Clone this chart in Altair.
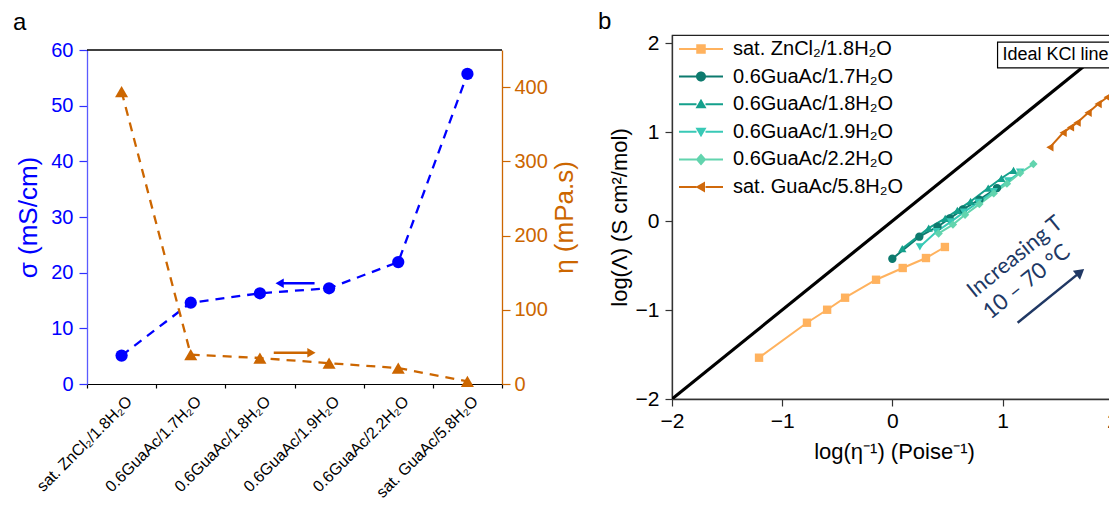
import json
import altair as alt
import pandas as pd

FONT = "Liberation Sans"
BLUE = "#0000FF"
ORANGE = "#CC6600"

# ---------------- panel a data ----------------
categories = ["sat. ZnCl₂/1.8H₂O", "0.6GuaAc/1.7H₂O", "0.6GuaAc/1.8H₂O",
              "0.6GuaAc/1.9H₂O", "0.6GuaAc/2.2H₂O", "sat. GuaAc/5.8H₂O"]
cat_index = [0, 1, 2, 3, 4, 5]
sigma = [5.1, 14.6, 16.3, 17.2, 21.9, 55.7]
eta = [394, 39.5, 35, 28, 21.5, 3.6]
sigma_arrow_from = [2.79]
sigma_arrow_to = [2.28]
sigma_arrow_head = [2.285]
sigma_arrow_level = [18.1]
eta_arrow_from = [2.2]
eta_arrow_to = [2.74]
eta_arrow_head = [2.745]
eta_arrow_level = [42.0]
frame_top = {"x": [-0.5], "x2": [5.5], "y": [60]}

# ---------------- panel b data ----------------
series_names = ["sat. ZnCl₂/1.8H₂O", "0.6GuaAc/1.7H₂O", "0.6GuaAc/1.8H₂O",
                "0.6GuaAc/1.9H₂O", "0.6GuaAc/2.2H₂O", "sat. GuaAc/5.8H₂O"]
series_colors = ["#FFB25E", "#0D7A6E", "#14A08C", "#38C9B6", "#62D4AE", "#D0690B"]
series_shapes = ["square", "circle", "triangle-up", "triangle-down", "diamond", "triangle-left"]
zncl2_x = [-1.21, -0.775, -0.592, -0.429, -0.148, 0.094, 0.305, 0.477]
zncl2_y = [-1.536, -1.143, -0.997, -0.862, -0.660, -0.528, -0.416, -0.292]
g17_x = [0.0, 0.245, 0.41, 0.52, 0.64, 0.79, 0.95]
g17_y = [-0.424, -0.176, -0.064, 0.03, 0.13, 0.24, 0.37]
g18_x = [0.09, 0.33, 0.48, 0.59, 0.71, 0.87, 0.99, 1.10]
g18_y = [-0.31, -0.08, 0.03, 0.12, 0.22, 0.37, 0.48, 0.57]
g19_x = [0.25, 0.40, 0.53, 0.65, 0.78, 0.92, 1.05, 1.16]
g19_y = [-0.29, -0.12, -0.01, 0.10, 0.21, 0.33, 0.45, 0.55]
g22_x = [0.42, 0.55, 0.66, 0.79, 0.92, 1.04, 1.16, 1.28]
g22_y = [-0.14, -0.04, 0.07, 0.19, 0.31, 0.42, 0.54, 0.64]
gua58_x = [1.43, 1.55, 1.617, 1.677, 1.777, 1.868, 1.95, 2.02]
gua58_y = [0.828, 0.992, 1.052, 1.105, 1.217, 1.315, 1.39, 1.464]
kcl_x = [-2.0, 2.03]
kcl_y = [-2.0, 2.03]
kcl_box = {"x": [0.955], "x2": [2.02], "y": [1.72], "y2": [2.01]}
kcl_label = {"x": [1.0], "y": [1.865], "text": ["Ideal KCl line"]}
annot_text = ["Increasing T", "10 – 70 °C"]
annot_x = [1.112, 1.219]
annot_y = [-0.401, -0.682]
annot_arrow = {"x": [1.137], "y": [-1.143], "x2": [1.70], "y2": [-0.58]}
annot_head = {"x": [1.706], "y": [-0.575]}

# legend symbol paths (line pieces + marker), unit = sqrt(symbolSize)/2 px
LINE = "M-4.4,-0.2H-0.9V0.2H-4.4ZM0.9,-0.2H4.4V0.2H0.9Z"
legend_paths = [
    LINE + "M-0.95,-0.95H0.95V0.95H-0.95Z",
    LINE + "M-1,0A1,1,0,1,1,1,0A1,1,0,1,1,-1,0Z",
    LINE + "M0,-1.1L1.1,0.8H-1.1Z",
    LINE + "M0,1.1L1.1,-0.8H-1.1Z",
    LINE + "M0,-1.2L1.05,0L0,1.2L-1.05,0Z",
    LINE + "M-1.1,0L0.8,-1.1V1.1Z",
]


def minor_dash(test, minor_len):
    return {"condition": {"test": test, "value": [minor_len, 40]}, "value": [40, 0]}


# ================= panel a =================
A_H = 349          # view height (top aligned with panel b)
A_TOP = 15         # plotted range starts 15 px below the view top
df_a = pd.DataFrame({"idx": cat_index, "category": categories, "sigma": sigma, "eta": eta})
xa_scale = alt.Scale(domain=[-0.5, 5.5], nice=False, zero=False)
xa_axis = alt.Axis(
    values=[v / 2 for v in range(-1, 12)], labels=False,
    tickSize=8, tickDash=minor_dash("datum.value % 1 != 0", 4),
    domainColor="#000000", tickColor="#000000",
    tickWidth=1.2, domainWidth=1.2, title=None,
)
xa = alt.X("idx:Q", scale=xa_scale, axis=xa_axis)
xa_s = alt.X("idx:Q", scale=xa_scale)

sig_scale = alt.Scale(domain=[0, 60], nice=False, zero=True, range=[A_H, A_TOP])
sig_axis = alt.Axis(
    orient="left", title="σ (mS/cm)", values=list(range(0, 61, 5)),
    labelExpr="datum.value % 10 == 0 ? datum.label : ''",
    tickSize=8, tickDash=minor_dash("datum.value % 10 != 0", 4),
    labelColor=BLUE, titleColor=BLUE, domainColor="#5A5AFF", tickColor="#3030FF",
    labelFontSize=20, titleFontSize=26, labelPadding=6, titlePadding=9,
    domainWidth=1.3, tickWidth=1.2,
)
eta_scale = alt.Scale(domain=[0, 450], nice=False, zero=True, range=[A_H, A_TOP])
eta_axis = alt.Axis(
    orient="right", title="η (mPa.s)", values=list(range(0, 451, 50)),
    labelExpr="datum.value % 100 == 0 ? datum.label : ''",
    tickSize=8, tickDash=minor_dash("datum.value % 100 != 0", 4),
    labelColor=ORANGE, titleColor=ORANGE, domainColor=ORANGE, tickColor=ORANGE,
    labelFontSize=20, titleFontSize=26, labelPadding=4, titlePadding=4,
    titleAngle=270, titleBaseline="top", domainWidth=1.3, tickWidth=1.2,
)

base_a = alt.Chart(df_a)
sig_line = base_a.mark_line(color=BLUE, strokeDash=[9, 7], strokeWidth=2.3).encode(
    x=xa, y=alt.Y("sigma:Q", scale=sig_scale, axis=sig_axis))
sig_pts = base_a.mark_circle(color=BLUE, size=150, opacity=1).encode(
    x=xa_s, y=alt.Y("sigma:Q", scale=sig_scale))
# category names as rotated tick labels under the axis
cat_labels = base_a.mark_text(
    angle=315, align="right", baseline="middle", font=FONT, fontSize=16,
    color="black", xOffset=8).encode(
    x=xa_s, y=alt.value(A_H + 15), text="category:N")
df_sa = pd.DataFrame({"x_from": sigma_arrow_from, "x_to": sigma_arrow_to,
                      "head": sigma_arrow_head, "level": sigma_arrow_level})
sig_arrow = alt.Chart(df_sa).mark_rule(color=BLUE, strokeWidth=2.5).encode(
    x=alt.X("x_from:Q", scale=xa_scale), x2="x_to:Q",
    y=alt.Y("level:Q", scale=sig_scale))
sig_head = alt.Chart(df_sa).mark_point(shape="triangle-left", filled=True, color=BLUE,
                                       size=90, opacity=1).encode(
    x=alt.X("head:Q", scale=xa_scale),
    y=alt.Y("level:Q", scale=sig_scale))
top_line = alt.Chart(pd.DataFrame(frame_top)).mark_rule(color="black", strokeWidth=1.3).encode(
    x=alt.X("x:Q", scale=xa_scale), x2="x2:Q",
    y=alt.Y("y:Q", scale=sig_scale))

eta_line = base_a.mark_line(color=ORANGE, strokeDash=[9, 7], strokeWidth=2.3).encode(
    x=xa_s, y=alt.Y("eta:Q", scale=eta_scale, axis=eta_axis))
eta_pts = base_a.mark_point(shape="triangle-up", filled=True, color=ORANGE, size=170,
                            opacity=1).encode(
    x=xa_s, y=alt.Y("eta:Q", scale=eta_scale))
df_ea = pd.DataFrame({"x_from": eta_arrow_from, "x_to": eta_arrow_to,
                      "head": eta_arrow_head, "level": eta_arrow_level})
eta_arrow = alt.Chart(df_ea).mark_rule(color=ORANGE, strokeWidth=2.5).encode(
    x=alt.X("x_from:Q", scale=xa_scale), x2="x_to:Q",
    y=alt.Y("level:Q", scale=eta_scale))
eta_head = alt.Chart(df_ea).mark_point(shape="triangle-right", filled=True, color=ORANGE,
                                       size=90, opacity=1).encode(
    x=alt.X("head:Q", scale=xa_scale),
    y=alt.Y("level:Q", scale=eta_scale))

panel_a = alt.layer(
    alt.layer(sig_line, top_line, sig_pts, sig_arrow, sig_head, cat_labels),
    alt.layer(eta_line, eta_pts, eta_arrow, eta_head),
).resolve_scale(y="independent").properties(
    width=415, height=A_H,
    view=alt.ViewBackground(stroke="transparent"),
    title=alt.TitleParams("a", anchor="start", frame="group", dx=-74, offset=0,
                          fontSize=24, fontWeight="normal", font=FONT, color="black"),
)

# ================= panel b =================
rows = []
for name, xs, ys in zip(series_names,
                        [zncl2_x, g17_x, g18_x, g19_x, g22_x, gua58_x],
                        [zncl2_y, g17_y, g18_y, g19_y, g22_y, gua58_y]):
    for xv, yv in zip(xs, ys):
        rows.append({"series": name, "x": xv, "y": yv})
df_b = pd.DataFrame(rows)

xb_scale = alt.Scale(domain=[-2, 2.03], nice=False, zero=False)
yb_scale = alt.Scale(domain=[-2, 2.09], nice=False, zero=False)
xb_axis = alt.Axis(
    values=[v / 2 for v in range(-4, 5)], format="d",
    labelExpr="datum.value % 1 == 0 ? datum.label : ''",
    tickSize=7, tickDash=minor_dash("datum.value % 1 != 0", 4),
    title="log(η⁻¹) (Poise⁻¹)", labelFontSize=21, titleFontSize=22,
    labelPadding=4, titlePadding=10, labelFlush=False,
    domainColor="#333333", tickColor="#333333", domainWidth=1.3, tickWidth=1.2,
)
yb_axis = alt.Axis(
    values=[v / 2 for v in range(-4, 5)], format="d",
    labelExpr="datum.value % 1 == 0 ? datum.label : ''",
    tickSize=7, tickDash=minor_dash("datum.value % 1 != 0", 4),
    title="log(Λ) (S cm²/mol)", labelFontSize=21, titleFontSize=22,
    labelPadding=6, titlePadding=4, labelFlush=False,
    domainColor="#333333", tickColor="#333333", domainWidth=1.3, tickWidth=1.2,
)

# nested conditional: series name -> legend symbol path
shape_expr = "''"
for name, p in reversed(list(zip(series_names, legend_paths))):
    shape_expr = f"datum.value == {json.dumps(name, ensure_ascii=False)} ? '{p}' : ({shape_expr})"
legend = alt.Legend(
    orient="none", legendX=19, legendY=4, title=None, direction="vertical",
    labelFont=FONT, labelFontSize=20, labelColor="black", symbolSize=100,
    labelOffset=22, rowPadding=7.6, padding=0, symbolStrokeWidth=0,
    symbolOpacity=1, labelLimit=400,
    symbolType={"expr": shape_expr},
)
color_enc = alt.Color("series:N", scale=alt.Scale(domain=series_names, range=series_colors),
                      sort=series_names, legend=legend)
xb_s = alt.X("x:Q", scale=xb_scale)
yb_s = alt.Y("y:Q", scale=yb_scale)

df_kcl = pd.DataFrame({"x": kcl_x, "y": kcl_y})
kcl_line = alt.Chart(df_kcl).mark_line(color="black", strokeWidth=3.2, clip=True).encode(
    x=alt.X("x:Q", scale=xb_scale, axis=xb_axis),
    y=alt.Y("y:Q", scale=yb_scale, axis=yb_axis))

series_lines = alt.Chart(df_b).mark_line(strokeWidth=2, clip=True).encode(
    x=xb_s, y=yb_s, color=color_enc, detail="series:N", order="x:Q")

pt_layers = []
for name, shp in zip(series_names, series_shapes):
    pt_layers.append(
        alt.Chart(df_b).transform_filter(alt.datum.series == name).mark_point(
            shape=shp, filled=True, size=70, opacity=1, clip=True).encode(
            x=xb_s, y=yb_s, color=color_enc))

box = alt.Chart(pd.DataFrame(kcl_box)).mark_rect(fill="white", stroke="black",
                                                 strokeWidth=1.2).encode(
    x=xb_s, x2="x2:Q", y=yb_s, y2="y2:Q")
box_text = alt.Chart(pd.DataFrame(kcl_label)).mark_text(
    align="left", baseline="middle", font=FONT, fontSize=18, color="black").encode(
    x=xb_s, y=yb_s, text="text:N")

df_annot = pd.DataFrame({"x": annot_x, "y": annot_y, "text": annot_text})
annot = alt.Chart(df_annot).mark_text(
    align="center", baseline="middle", font="Lato", fontSize=22, color="#203864",
    angle=321).encode(x=xb_s, y=yb_s, text="text:N")
arrow_line = alt.Chart(pd.DataFrame(annot_arrow)).mark_rule(
    color="#203864", strokeWidth=2.5).encode(x=xb_s, x2="x2:Q", y=yb_s, y2="y2:Q")
arrow_head = alt.Chart(pd.DataFrame(annot_head)).mark_point(
    shape="triangle-up", angle=51, filled=True, color="#203864", size=130, opacity=1).encode(
    x=xb_s, y=yb_s)

panel_b = alt.layer(
    kcl_line, series_lines, *pt_layers, box, box_text, annot, arrow_line, arrow_head
).properties(
    width=444, height=364,
    title=alt.TitleParams("b", anchor="start", frame="group", dx=-74, offset=-2,
                          fontSize=24, fontWeight="normal", font=FONT, color="black"),
)

# fixed-size canvas (1101 x 496): origin of panel a at (87, 35) on the page;
# content past the canvas edge is cut, as in the reference
chart = alt.concat(panel_a, panel_b, columns=2, spacing=19, align="none").resolve_scale(
    color="independent").resolve_legend(color="independent").properties(
    autosize=alt.AutoSizeParams(type="none"),
    padding={"left": 79, "top": 27, "right": 1022, "bottom": 469},
).configure_view(stroke="#222222", strokeWidth=1.2).configure_axis(
    labelFont=FONT, titleFont=FONT, titleFontWeight="normal", grid=False,
    labelColor="black", titleColor="black",
).configure_title(font=FONT)

chart.save("out.html", embed_options={"renderer": "svg", "actions": False})
